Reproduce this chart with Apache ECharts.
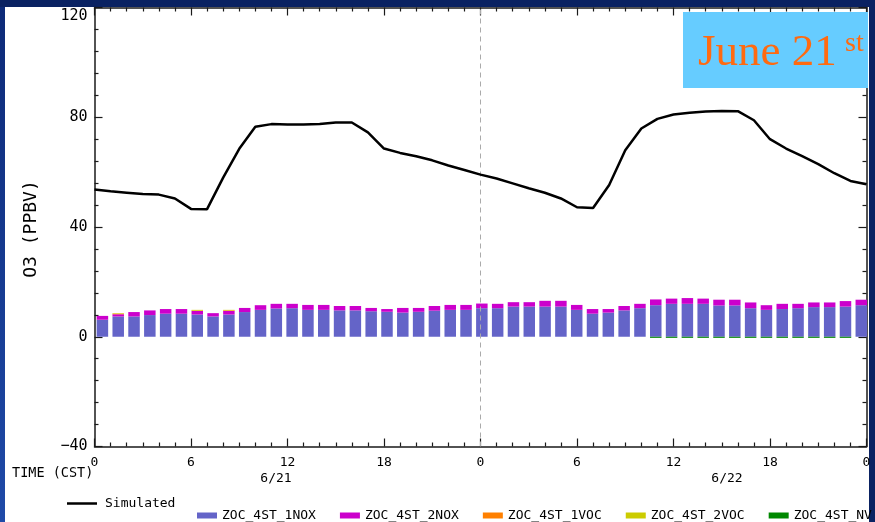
<!DOCTYPE html>
<html>
<head>
<meta charset="utf-8">
<script src="https://cdn.jsdelivr.net/npm/echarts@6/dist/echarts.min.js"></script>
<style>
  html, body { margin: 0; padding: 0; background: #0a2262; }
  #chart { width: 875px; height: 522px; }
</style>
</head>
<body>
<div id="chart"></div>
<script>
// Hour of the two-day run (CST), 0..48
const hours = [0,1,2,3,4,5,6,7,8,9,10,11,12,13,14,15,16,17,18,19,20,21,22,23,24,
               25,26,27,28,29,30,31,32,33,34,35,36,37,38,39,40,41,42,43,44,45,46,47,48];

// Simulated O3 (ppbv)
const simulated = [53.7,53.0,52.5,52.0,51.8,50.4,46.6,46.5,58.0,68.5,76.5,77.5,77.4,77.4,77.5,78.1,78.1,74.5,68.6,67.0,65.8,64.3,62.4,60.8,59.1,
                   57.7,55.9,54.1,52.5,50.4,47.2,46.9,55.3,68.0,75.9,79.4,81.0,81.6,82.1,82.3,82.2,78.9,72.0,68.6,65.8,62.9,59.6,56.8,55.6];

// Source-tagged O3 contributions (ppbv)
const zoc1NOX = [6.2,7.4,7.4,7.9,8.4,8.4,8.1,7.4,8.1,9.0,9.8,10.3,10.4,9.8,9.8,9.6,9.6,9.3,9.1,8.8,9.1,9.5,9.8,9.8,10.4,
                 10.4,11.0,11.0,11.0,11.0,9.8,8.4,8.8,9.6,10.4,11.5,12.0,12.0,12.0,11.4,11.4,10.4,9.8,10.1,10.4,10.8,10.8,11.0,11.5];
const zoc2NOX = [1.4,0.8,1.6,1.7,1.7,1.7,1.3,1.2,1.3,1.5,1.7,1.7,1.6,1.8,1.8,1.6,1.6,1.2,1.0,1.7,1.4,1.7,1.8,1.8,1.7,
                 1.6,1.6,1.6,2.1,2.1,1.8,1.7,1.3,1.6,1.6,2.1,1.9,2.1,1.9,2.1,2.1,2.1,1.7,1.9,1.6,1.7,1.7,2.0,2.0];
const zoc1VOC = [0,0.2,0,0,0,0,0.1,0,0.2,0,0,0,0,0,0,0,0,0,0,0,0,0,0,0,0,
                 0,0,0,0,0,0,0,0,0,0,0,0,0,0,0,0,0,0,0,0,0,0,0,0];
const zoc2VOC = [0,0.2,0,0,0,0,0.3,0,0.2,0,0,0,0,0,0,0,0,0,0,0,0,0,0,0,0,
                 0,0,0,0,0,0,0,0,0,0,0,0,0,0,0,0,0,0,0,0,0,0,0,0];
const zocNV   = [0,0,0,0,0,0,0,0,0,0,0,0,0,0,0,0,0,0,0,0,0,0,0,0,0,
                 0,0,0,0,0,0,0,0,0,0,-0.4,-0.4,-0.4,-0.4,-0.4,-0.4,-0.4,-0.4,-0.4,-0.4,-0.4,-0.4,-0.4,0];

const seriesNames = ['Simulated','ZOC_4ST_1NOX','ZOC_4ST_2NOX','ZOC_4ST_1VOC','ZOC_4ST_2VOC','ZOC_4ST_NV'];
const barColors = ['#6464c8','#cc00cc','#ff8000','#cccc00','#008800'];
const dateLabels = ['6/21','6/22'];

const MONO = '"DejaVu Sans Mono", monospace';
const chart = echarts.init(document.getElementById('chart'), null, { renderer: 'canvas' });

const pair = arr => hours.map((h, i) => [h, arr[i]]);

function frameAxis(extra) {
  return Object.assign({
    axisLine: { show: true, onZero: false, lineStyle: { color: '#1a1a1a', width: 1.5 } },
    axisTick: { show: true, inside: true, length: 8, lineStyle: { color: '#1a1a1a', width: 1.2 } },
    minorTick: { show: true, length: 4, lineStyle: { color: '#1a1a1a', width: 1.2 } },
    splitLine: { show: false },
    minorSplitLine: { show: false }
  }, extra);
}

// grid 0: frame, line and axes; grid 1: hourly bar slots
const grids = [
  { left: 94.5, right: 8.5, top: 7.5, bottom: 75.5 },
  { left: 94.5, right: 5.8, top: 7.5, bottom: 75.5 }
];

const barSeries = [zoc1NOX, zoc2NOX, zoc1VOC, zoc2VOC, zocNV].map((arr, k) => ({
  name: seriesNames[k + 1],
  type: 'bar',
  stack: 'zoc',
  xAxisIndex: 2,
  yAxisIndex: 2,
  barWidth: 11.5,
  itemStyle: { color: barColors[k] },
  data: arr,
  z: 2
}));

chart.setOption({
  animation: false,
  backgroundColor: '#0a2262',
  grid: grids,
  xAxis: [
    frameAxis({
      type: 'value', gridIndex: 0, min: 0, max: 48, interval: 6, position: 'bottom',
      minorTick: { show: true, splitNumber: 6, length: 4, lineStyle: { color: '#1a1a1a', width: 1.2 } },
      axisLabel: {
        show: true, margin: 10, color: '#000', fontFamily: MONO, fontSize: 13,
        formatter: v => String(v % 24)
      }
    }),
    frameAxis({
      type: 'value', gridIndex: 0, min: 0, max: 48, interval: 6, position: 'top',
      minorTick: { show: true, splitNumber: 6, length: 4, lineStyle: { color: '#1a1a1a', width: 1.2 } },
      axisLabel: { show: false }
    }),
    { type: 'category', gridIndex: 1, data: hours, boundaryGap: true, show: false }
  ],
  yAxis: [
    frameAxis({
      type: 'value', gridIndex: 0, min: -40, max: 120, interval: 40, position: 'left',
      minorTick: { show: true, splitNumber: 5, length: 4, lineStyle: { color: '#1a1a1a', width: 1.2 } },
      axisLabel: {
        show: true, margin: 7, color: '#000', fontFamily: MONO, fontSize: 15,
        formatter: v => v === 120 ? '{t|120}' : (v < 0 ? '\u2212' + (-v) : String(v)),
        rich: { t: { fontFamily: MONO, fontSize: 15, color: '#000', padding: [18, 0, 0, 0] } }
      }
    }),
    frameAxis({
      type: 'value', gridIndex: 0, min: -40, max: 120, interval: 40, position: 'right',
      minorTick: { show: true, splitNumber: 5, length: 4, lineStyle: { color: '#1a1a1a', width: 1.2 } },
      axisLabel: { show: false }
    }),
    { type: 'value', gridIndex: 1, min: -40, max: 120, show: false }
  ],
  legend: [
    {
      data: [{ name: seriesNames[0], icon: 'rect' }],
      left: 62, top: 492, itemWidth: 30, itemHeight: 2.5, itemGap: 0,
      selectedMode: false,
      textStyle: { fontFamily: MONO, fontSize: 13, color: '#000', padding: [0, 0, 0, 3] }
    },
    {
      data: seriesNames.slice(1).map(n => ({ name: n, icon: 'rect' })),
      left: 192, top: 504, width: 1000, itemWidth: 20, itemHeight: 6, itemGap: 24,
      selectedMode: false,
      textStyle: { fontFamily: MONO, fontSize: 13, color: '#000' }
    }
  ],
  graphic: [
    { type: 'rect', z: -10, shape: { x: 5, y: 7, width: 864, height: 515 }, style: { fill: '#ffffff' } },
    { type: 'rect', z: -10, shape: { x: 0, y: 7, width: 5, height: 515 },
      style: { fill: new echarts.graphic.LinearGradient(0, 0, 0, 1, [{ offset: 0, color: '#0d2a78' }, { offset: 1, color: '#1f4aa8' }]) } },
    { type: 'rect', z: 50, shape: { x: 683, y: 12, width: 185, height: 76 }, style: { fill: '#66ccff' } },
    { type: 'text', z: 51, x: 698, y: 53,
      style: { text: 'June 21', font: '45px "Liberation Serif", serif', fill: '#ff6a10', align: 'left', verticalAlign: 'middle' } },
    { type: 'text', z: 51, x: 845, y: 44,
      style: { text: 'st', font: '28px "Liberation Serif", serif', fill: '#ff6a10', align: 'left', verticalAlign: 'middle' } },
    { type: 'text', x: 12, y: 473,
      style: { text: 'TIME (CST)', font: '13.5px ' + MONO, fill: '#000', align: 'left', verticalAlign: 'middle' } },
    { type: 'text', x: 276, y: 479,
      style: { text: dateLabels[0], font: '13px ' + MONO, fill: '#000', align: 'center', verticalAlign: 'middle' } },
    { type: 'text', x: 727, y: 479,
      style: { text: dateLabels[1], font: '13px ' + MONO, fill: '#000', align: 'center', verticalAlign: 'middle' } },
    { type: 'text', x: 31.5, y: 229, rotation: Math.PI / 2,
      style: { text: 'O3 (PPBV)', font: '18px ' + MONO, fill: '#000', align: 'center', verticalAlign: 'middle' } }
  ],
  series: barSeries.concat([{
    name: seriesNames[0],
    type: 'line',
    xAxisIndex: 0,
    yAxisIndex: 0,
    data: pair(simulated),
    showSymbol: false,
    symbol: 'none',
    color: '#000',
    lineStyle: { color: '#000', width: 2.5 },
    z: 5,
    markLine: {
      silent: true,
      symbol: 'none',
      label: { show: false },
      lineStyle: { color: '#aaaaaa', type: [5, 4], width: 1 },
      data: [{ xAxis: 24 }]
    }
  }])
});
</script>
</body>
</html>
